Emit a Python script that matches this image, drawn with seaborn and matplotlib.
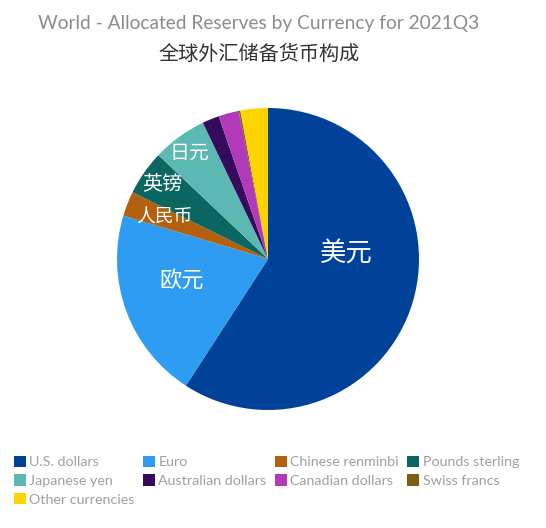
import matplotlib
matplotlib.use("Agg")
import matplotlib.pyplot as plt
import seaborn as sns

# 데이터: 2021Q3 통화별 외환보유액 비중 (%)
currencies = ["U.S. dollars", "Euro", "Chinese renminbi", "Pounds sterling",
              "Japanese yen", "Australian dollars", "Canadian dollars",
              "Swiss francs", "Other currencies"]
shares = [59.15, 20.48, 2.66, 4.78, 5.83, 1.81, 2.18, 0.17, 2.94]
cn_labels = ["美元", "欧元", "人民币", "英镑", "日元", "", "", "", ""]
colors = ["#00419a", "#2f9cf4", "#b3600f", "#0b6561", "#5bb8b2",
          "#360a5c", "#b23ab8", "#7b5e10", "#fdd300"]

sns.set_theme(style="white")
plt.rcParams['font.family'] = ['Lato', 'Noto Sans CJK SC', 'DejaVu Sans']

fig = plt.figure(figsize=(5.46, 5.28), dpi=100)
ax = fig.add_axes([0.2143, 0.2235, 0.5531, 0.572])

wedges, _ = ax.pie(shares, colors=colors, startangle=90, counterclock=False,
                   radius=1, wedgeprops=dict(linewidth=0))
ax.set_xlim(-1, 1)
ax.set_ylim(-1, 1)
ax.set_aspect("equal")

# 라벨 위치 (파이 중심 기준, 반지름 단위)와 글자 크기
label_pos = [(0.52, 0.03), (-0.57, -0.14), (-0.69, 0.28), (-0.70, 0.49),
             (-0.52, 0.70), None, None, None, None]
label_size = [19, 16, 13.5, 14.5, 14.3, 0, 0, 0, 0]
for lab, pos, fs in zip(cn_labels, label_pos, label_size):
    if pos is None:
        continue
    ax.text(pos[0], pos[1], lab, color="white", fontsize=fs,
            ha="center", va="center", family=['Noto Sans CJK SC', 'DejaVu Sans'])

fig.text(0.4744, 0.956, "World - Allocated Reserves by Currency for 2021Q3",
         ha="center", va="center", fontsize=13.8, color="#8c8c8c")
fig.text(0.4744, 0.896, "全球外汇储备货币构成", ha="center", va="center",
         fontsize=14.5, color="#333333", family=['Noto Sans CJK SC', 'DejaVu Sans'])

# 범례 (행 우선 순서로 재배열)
order = [0, 4, 8, 1, 5, 2, 6, 3, 7]
leg = fig.legend([wedges[i] for i in order], [currencies[i] for i in order],
                 ncol=4, loc="upper left", bbox_to_anchor=(0.0256, 0.137),
                 frameon=False, fontsize=10.3, handlelength=0.84, handleheight=0.84,
                 handletextpad=0.22, columnspacing=0.6, labelspacing=0.42,
                 borderaxespad=0, borderpad=0)
for t in leg.get_texts():
    t.set_color("#a0a0a0")

fig.savefig("out.png", dpi=100)
